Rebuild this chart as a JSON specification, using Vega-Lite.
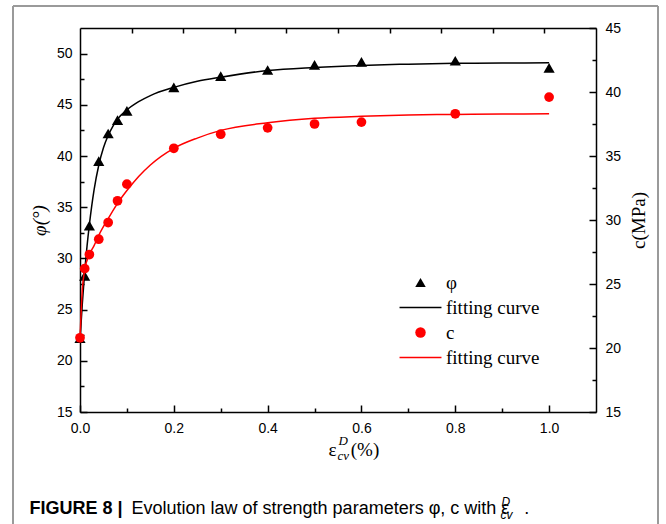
{
  "$schema": "https://vega.github.io/schema/vega-lite/v6.json",
  "width": 516,
  "height": 384,
  "autosize": "none",
  "padding": {"left": 80, "top": 28, "right": 70, "bottom": 112},
  "background": "white",
  "config": {
    "view": {"stroke": null},
    "axis": {
      "labelFont": "Liberation Sans", "labelFontSize": 14, "labelColor": "black",
      "labelFlush": false, "labelOverlap": false, "labelBound": false,
      "titleFont": "Liberation Serif", "titleFontSize": 19, "titleFontWeight": "normal", "titleColor": "black",
      "domainColor": "black", "domainWidth": 1.5, "tickColor": "black", "tickWidth": 1.5, "grid": false
    },
    "legend": {
      "orient": "none", "legendX": 331, "legendY": 245, "title": null, "padding": 0,
      "labelFont": "Liberation Serif", "labelFontSize": 19, "labelColor": "black",
      "symbolSize": 110, "symbolStrokeWidth": 1.5, "symbolOpacity": 1,
      "labelOffset": 16, "rowPadding": 5
    }
  },
  "datasets": {
    "pts": [
      {"x": 0, "value": 22.2, "series": "φ"},
      {"x": 0.01, "value": 28.3, "series": "φ"},
      {"x": 0.02, "value": 33.2, "series": "φ"},
      {"x": 0.04, "value": 39.5, "series": "φ"},
      {"x": 0.06, "value": 42.2, "series": "φ"},
      {"x": 0.08, "value": 43.5, "series": "φ"},
      {"x": 0.1, "value": 44.4, "series": "φ"},
      {"x": 0.2, "value": 46.7, "series": "φ"},
      {"x": 0.3, "value": 47.8, "series": "φ"},
      {"x": 0.4, "value": 48.4, "series": "φ"},
      {"x": 0.5, "value": 48.9, "series": "φ"},
      {"x": 0.6, "value": 49.2, "series": "φ"},
      {"x": 0.8, "value": 49.3, "series": "φ"},
      {"x": 1.0, "value": 48.6, "series": "φ"},
      {"x": 0, "value": 20.8, "series": "c"},
      {"x": 0.01, "value": 26.2, "series": "c"},
      {"x": 0.02, "value": 27.3, "series": "c"},
      {"x": 0.04, "value": 28.5, "series": "c"},
      {"x": 0.06, "value": 29.8, "series": "c"},
      {"x": 0.08, "value": 31.5, "series": "c"},
      {"x": 0.1, "value": 32.8, "series": "c"},
      {"x": 0.2, "value": 35.6, "series": "c"},
      {"x": 0.3, "value": 36.7, "series": "c"},
      {"x": 0.4, "value": 37.2, "series": "c"},
      {"x": 0.5, "value": 37.5, "series": "c"},
      {"x": 0.6, "value": 37.65, "series": "c"},
      {"x": 0.8, "value": 38.3, "series": "c"},
      {"x": 1.0, "value": 39.6, "series": "c"}
    ],
    "fit": [
      {"x": 0, "value": 22.0, "series": "fit_phi"},
      {"x": 0.005, "value": 25.6, "series": "fit_phi"},
      {"x": 0.01, "value": 28.7, "series": "fit_phi"},
      {"x": 0.015, "value": 31.2, "series": "fit_phi"},
      {"x": 0.02, "value": 33.3, "series": "fit_phi"},
      {"x": 0.03, "value": 36.7, "series": "fit_phi"},
      {"x": 0.04, "value": 39.1, "series": "fit_phi"},
      {"x": 0.05, "value": 40.8, "series": "fit_phi"},
      {"x": 0.06, "value": 42.0, "series": "fit_phi"},
      {"x": 0.07, "value": 42.9, "series": "fit_phi"},
      {"x": 0.08, "value": 43.6, "series": "fit_phi"},
      {"x": 0.1, "value": 44.5, "series": "fit_phi"},
      {"x": 0.125, "value": 45.3, "series": "fit_phi"},
      {"x": 0.15, "value": 45.9, "series": "fit_phi"},
      {"x": 0.2, "value": 46.7, "series": "fit_phi"},
      {"x": 0.25, "value": 47.3, "series": "fit_phi"},
      {"x": 0.3, "value": 47.7, "series": "fit_phi"},
      {"x": 0.4, "value": 48.35, "series": "fit_phi"},
      {"x": 0.5, "value": 48.65, "series": "fit_phi"},
      {"x": 0.6, "value": 48.85, "series": "fit_phi"},
      {"x": 0.7, "value": 48.97, "series": "fit_phi"},
      {"x": 0.8, "value": 49.05, "series": "fit_phi"},
      {"x": 0.9, "value": 49.08, "series": "fit_phi"},
      {"x": 1.0, "value": 49.1, "series": "fit_phi"},
      {"x": 0, "value": 20.7, "series": "fit_c"},
      {"x": 0.005, "value": 24.6, "series": "fit_c"},
      {"x": 0.01, "value": 26.1, "series": "fit_c"},
      {"x": 0.02, "value": 27.3, "series": "fit_c"},
      {"x": 0.03, "value": 28.0, "series": "fit_c"},
      {"x": 0.04, "value": 28.8, "series": "fit_c"},
      {"x": 0.06, "value": 30.1, "series": "fit_c"},
      {"x": 0.08, "value": 31.3, "series": "fit_c"},
      {"x": 0.1, "value": 32.3, "series": "fit_c"},
      {"x": 0.125, "value": 33.4, "series": "fit_c"},
      {"x": 0.15, "value": 34.3, "series": "fit_c"},
      {"x": 0.2, "value": 35.6, "series": "fit_c"},
      {"x": 0.25, "value": 36.4, "series": "fit_c"},
      {"x": 0.3, "value": 37.0, "series": "fit_c"},
      {"x": 0.4, "value": 37.6, "series": "fit_c"},
      {"x": 0.5, "value": 37.95, "series": "fit_c"},
      {"x": 0.6, "value": 38.1, "series": "fit_c"},
      {"x": 0.7, "value": 38.2, "series": "fit_c"},
      {"x": 0.8, "value": 38.25, "series": "fit_c"},
      {"x": 0.9, "value": 38.28, "series": "fit_c"},
      {"x": 1.0, "value": 38.3, "series": "fit_c"}
    ]
  },
  "layer": [
    {
      "encoding": {
        "x": {"field": "x", "type": "quantitative", "scale": {"domain": [0, 1.1], "nice": false, "zero": false, "clamp": false},
          "axis": {"orient": "bottom", "values": [0, 0.2, 0.4, 0.6, 0.8, 1.0], "format": ".1f",
            "tickSize": -7, "labelPadding": 16,
            "title": "ε\u00a0\u00a0\u00a0(%)", "titleX": 248, "titleY": 43, "titleAlign": "left", "titleBaseline": "alphabetic", "titleAngle": 0}},
        "y": {"field": "value", "type": "quantitative", "scale": {"domain": [15, 52.5], "nice": false, "zero": false},
          "axis": {"orient": "left", "values": [15, 20, 25, 30, 35, 40, 45, 50],
            "tickSize": -7, "labelPadding": 15,
            "title": "φ(°)", "titleFontStyle": "italic", "titleX": -41, "titleY": 192, "titleAngle": 270, "titleAlign": "center", "titleBaseline": "middle"}}
      },
      "layer": [
        {"data": {"name": "fit"}, "transform": [{"filter": "datum.series == 'fit_phi'"}],
          "mark": {"type": "line", "strokeWidth": 1.5, "interpolate": "monotone"},
          "encoding": {"stroke": {"field": "series", "type": "nominal",
            "scale": {"domain": ["φ", "fit_phi", "c", "fit_c"], "range": ["transparent", "black", "transparent", "#ff0000"]},
            "legend": {"labelExpr": "datum.label == 'φ' || datum.label == 'c' ? datum.label : 'fitting curve'"}}}},
        {"data": {"name": "pts"}, "transform": [{"filter": "datum.series == 'φ'"}],
          "mark": {"type": "point", "filled": true, "opacity": 1, "size": 125, "strokeWidth": 1.5},
          "encoding": {
            "shape": {"field": "series", "type": "nominal",
              "scale": {"domain": ["φ", "fit_phi", "c", "fit_c"], "range": ["triangle-up", "M-4,0H4", "circle", "M-4,0H4"]},
              "legend": {"labelExpr": "datum.label == 'φ' || datum.label == 'c' ? datum.label : 'fitting curve'"}},
            "fill": {"field": "series", "type": "nominal",
              "scale": {"domain": ["φ", "fit_phi", "c", "fit_c"], "range": ["black", "transparent", "#ff0000", "transparent"]},
              "legend": {"labelExpr": "datum.label == 'φ' || datum.label == 'c' ? datum.label : 'fitting curve'"}},
            "stroke": {"field": "series", "type": "nominal",
              "scale": {"domain": ["φ", "fit_phi", "c", "fit_c"], "range": ["transparent", "black", "transparent", "#ff0000"]},
              "legend": {"labelExpr": "datum.label == 'φ' || datum.label == 'c' ? datum.label : 'fitting curve'"}}
          }}
      ]
    },
    {
      "encoding": {
        "x": {"field": "x", "type": "quantitative", "scale": {"domain": [0, 1.1], "nice": false, "zero": false, "clamp": false},
          "axis": {"orient": "top", "values": [0.11, 0.22, 0.33, 0.44, 0.55, 0.66, 0.77, 0.88, 0.99],
            "labels": false, "tickSize": -5,
            "title": "D", "titleX": 258, "titleY": 416, "titleFontSize": 13, "titleFontStyle": "italic",
            "titleAlign": "left", "titleBaseline": "alphabetic", "titleAngle": 0}},
        "y": {"field": "value", "type": "quantitative", "scale": {"domain": [15, 45], "nice": false, "zero": false},
          "axis": {"orient": "right", "values": [15, 20, 25, 30, 35, 40, 45],
            "tickSize": -7, "labelPadding": 16,
            "title": "c(MPa)", "titleX": 42, "titleY": 192, "titleAngle": 270, "titleAlign": "center", "titleBaseline": "middle"}}
      },
      "layer": [
        {"data": {"name": "fit"}, "transform": [{"filter": "datum.series == 'fit_c'"}],
          "mark": {"type": "line", "strokeWidth": 1.5, "interpolate": "monotone"},
          "encoding": {"stroke": {"field": "series", "type": "nominal",
            "scale": {"domain": ["φ", "fit_phi", "c", "fit_c"], "range": ["transparent", "black", "transparent", "#ff0000"]},
            "legend": {"labelExpr": "datum.label == 'φ' || datum.label == 'c' ? datum.label : 'fitting curve'"}}}},
        {"data": {"name": "pts"}, "transform": [{"filter": "datum.series == 'c'"}],
          "mark": {"type": "point", "filled": true, "opacity": 1, "size": 95, "strokeWidth": 1.5},
          "encoding": {
            "shape": {"field": "series", "type": "nominal",
              "scale": {"domain": ["φ", "fit_phi", "c", "fit_c"], "range": ["triangle-up", "M-4,0H4", "circle", "M-4,0H4"]},
              "legend": {"labelExpr": "datum.label == 'φ' || datum.label == 'c' ? datum.label : 'fitting curve'"}},
            "fill": {"field": "series", "type": "nominal",
              "scale": {"domain": ["φ", "fit_phi", "c", "fit_c"], "range": ["black", "transparent", "#ff0000", "transparent"]},
              "legend": {"labelExpr": "datum.label == 'φ' || datum.label == 'c' ? datum.label : 'fitting curve'"}},
            "stroke": {"field": "series", "type": "nominal",
              "scale": {"domain": ["φ", "fit_phi", "c", "fit_c"], "range": ["transparent", "black", "transparent", "#ff0000"]},
              "legend": {"labelExpr": "datum.label == 'φ' || datum.label == 'c' ? datum.label : 'fitting curve'"}}
          }}
      ]
    },
    {
      "data": {"values": [{"edge": "left"}]},
      "layer": [
        {"mark": {"type": "rule", "color": "#9a9a9a", "strokeWidth": 2},
          "encoding": {"x": {"datum": -0.14283, "type": "quantitative", "scale": {"domain": [0, 1.1], "nice": false, "zero": false, "clamp": false}, "axis": null},
            "y": {"datum": 54.65, "type": "quantitative", "scale": {"domain": [15, 52.5], "nice": false, "zero": false, "clamp": false}, "axis": null},
            "y2": {"datum": 4.0}}},
        {"mark": {"type": "rule", "color": "#9a9a9a", "strokeWidth": 2},
          "encoding": {"x": {"datum": 1.23217, "type": "quantitative", "axis": null},
            "y": {"datum": 54.65, "type": "quantitative", "axis": null},
            "y2": {"datum": 4.0}}},
        {"mark": {"type": "rule", "color": "#9a9a9a", "strokeWidth": 2},
          "encoding": {"x": {"datum": -0.14283, "type": "quantitative", "axis": null},
            "x2": {"datum": 1.23217},
            "y": {"datum": 54.65, "type": "quantitative", "axis": null}}}
      ]
    },
    {
      "data": {"name": "pts"},
      "mark": {"type": "point", "opacity": 0},
      "encoding": {
        "x": {"field": "x", "type": "quantitative", "scale": {"domain": [0, 1.1], "nice": false, "zero": false},
          "axis": {"orient": "bottom", "domain": false, "labels": false, "values": [0.1, 0.3, 0.5, 0.7, 0.9], "tickSize": -4,
            "title": "cv", "titleX": 257, "titleY": 47, "titleFontSize": 13, "titleFontStyle": "italic",
            "titleAlign": "left", "titleBaseline": "alphabetic", "titleAngle": 0}},
        "y": {"field": "value", "type": "quantitative", "scale": {"domain": [15, 52.5], "nice": false, "zero": false},
          "axis": {"orient": "left", "domain": false, "labels": false, "values": [17.5, 22.5, 27.5, 32.5, 37.5, 42.5, 47.5], "tickSize": -4,
            "title": "FIGURE 8 |", "titleFont": "Liberation Sans", "titleFontWeight": "bold", "titleFontSize": 18,
            "titleX": -51, "titleY": 485, "titleAngle": 0, "titleAlign": "left", "titleBaseline": "alphabetic"}}
      }
    },
    {
      "data": {"name": "pts"},
      "mark": {"type": "point", "opacity": 0},
      "encoding": {
        "x": {"field": "x", "type": "quantitative", "scale": {"domain": [0, 1.1], "nice": false, "zero": false},
          "axis": {"orient": "top", "domain": false, "ticks": false, "labels": false,
            "title": "Evolution law of strength parameters φ, c with ε\u00a0\u00a0\u00a0.", "titleFont": "Liberation Sans", "titleFontSize": 18,
            "titleX": 51, "titleY": 485, "titleAngle": 0, "titleAlign": "left", "titleBaseline": "alphabetic"}},
        "y": {"field": "value", "type": "quantitative", "scale": {"domain": [15, 45], "nice": false, "zero": false},
          "axis": {"orient": "right", "domain": false, "labels": false, "values": [17.5, 22.5, 27.5, 32.5, 37.5, 42.5], "tickSize": -4,
            "title": "D", "titleFont": "Liberation Sans", "titleFontStyle": "italic", "titleFontSize": 12,
            "titleX": -95, "titleY": 477, "titleAngle": 0, "titleAlign": "left", "titleBaseline": "alphabetic"}}
      }
    },
    {
      "data": {"name": "pts"},
      "mark": {"type": "point", "opacity": 0},
      "encoding": {
        "x": {"field": "x", "type": "quantitative", "scale": {"domain": [0, 1.1], "nice": false, "zero": false},
          "axis": {"orient": "bottom", "domain": false, "ticks": false, "labels": false,
            "title": "cv", "titleFont": "Liberation Sans", "titleFontStyle": "italic", "titleFontSize": 12,
            "titleX": 420, "titleY": 106, "titleAngle": 0, "titleAlign": "left", "titleBaseline": "alphabetic"}},
        "y": {"field": "value", "type": "quantitative", "scale": {"zero": false}, "axis": null}
      }
    }
  ],
  "resolve": {"scale": {"y": "independent"}, "axis": {"x": "independent", "y": "independent"}}
}
